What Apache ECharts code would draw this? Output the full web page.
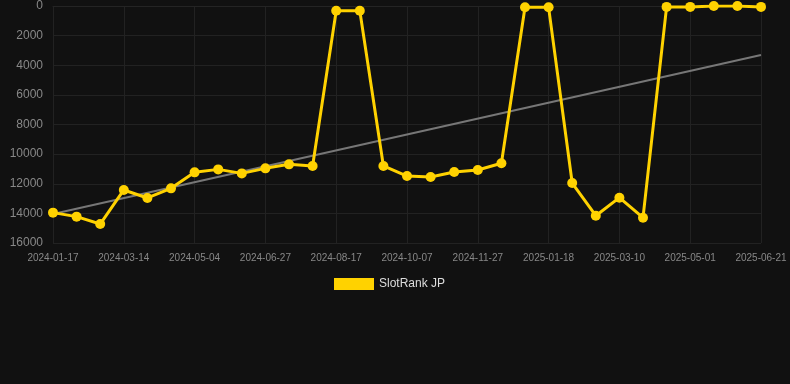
<!DOCTYPE html>
<html>
<head>
<meta charset="utf-8">
<script src="https://cdn.jsdelivr.net/npm/echarts@6/dist/echarts.min.js"></script>
<style>
  html, body { margin: 0; padding: 0; background: #111111; }
  #main { width: 790px; height: 384px; }
</style>
</head>
<body>
<div id="main"></div>
<script>
var chart = echarts.init(document.getElementById('main'));

var dates = ['2024-01-17', '2024-02-05', '2024-02-24', '2024-03-14', '2024-03-31', '2024-04-17',
  '2024-05-04', '2024-05-22', '2024-06-09', '2024-06-27', '2024-07-14', '2024-07-31',
  '2024-08-17', '2024-09-03', '2024-09-20', '2024-10-07', '2024-10-24', '2024-11-10',
  '2024-11-27', '2024-12-15', '2025-01-01', '2025-01-18', '2025-02-04', '2025-02-21',
  '2025-03-10', '2025-03-27', '2025-04-14', '2025-05-01', '2025-05-18', '2025-06-04',
  '2025-06-21'];
var rankJP = [13950, 14220, 14720, 12420, 12960, 12310, 11230, 11030, 11300, 10960, 10690,
  10800, 315, 315, 10800, 11480, 11540, 11210, 11070, 10620, 90, 90, 11950, 14160, 12940,
  14290, 60, 60, 5, 5, 60];
var trend = [14040, null, null, null, null, null, null, null, null, null, null, null, null, null,
  null, null, null, null, null, null, null, null, null, null, null, null, null, null, null, null, 3310];

var option = {
  backgroundColor: '#111111',
  textStyle: { fontFamily: 'Liberation Sans, Arial, sans-serif' },
  animation: false,
  grid: {
    left: 53,
    right: 29,
    top: 6,
    bottom: 141
  },
  legend: {
    left: 329,
    top: 273,
    itemWidth: 40,
    itemHeight: 12,
    itemGap: 10,
    icon: 'rect',
    textStyle: { color: '#dddddd', fontSize: 12 },
    data: ['SlotRank JP']
  },
  xAxis: {
    type: 'category',
    boundaryGap: false,
    data: dates,
    axisLine: { lineStyle: { color: '#242424' } },
    axisTick: { show: false, interval: 2 },
    axisLabel: { interval: 2, color: '#888888', fontSize: 10, margin: 10 },
    splitLine: { show: true, interval: 2, lineStyle: { color: '#222222' } }
  },
  yAxis: {
    type: 'value',
    inverse: true,
    min: 0,
    max: 16000,
    interval: 2000,
    axisLine: { show: false },
    axisTick: { show: false },
    axisLabel: {
      color: '#888888',
      fontSize: 12,
      margin: 10,
      formatter: function (v) { return String(v); }
    },
    splitLine: { lineStyle: { color: '#222222' } }
  },
  series: [
    {
      name: 'Trend',
      type: 'line',
      data: trend,
      connectNulls: true,
      showSymbol: false,
      symbol: 'none',
      silent: true,
      lineStyle: { color: '#777777', width: 2 },
      z: 1
    },
    {
      name: 'SlotRank JP',
      type: 'line',
      data: rankJP,
      symbol: 'circle',
      symbolSize: 10,
      itemStyle: { color: '#FFD200' },
      lineStyle: { color: '#FFD200', width: 3 },
      z: 2
    }
  ]
};

chart.setOption(option);
</script>
</body>
</html>
